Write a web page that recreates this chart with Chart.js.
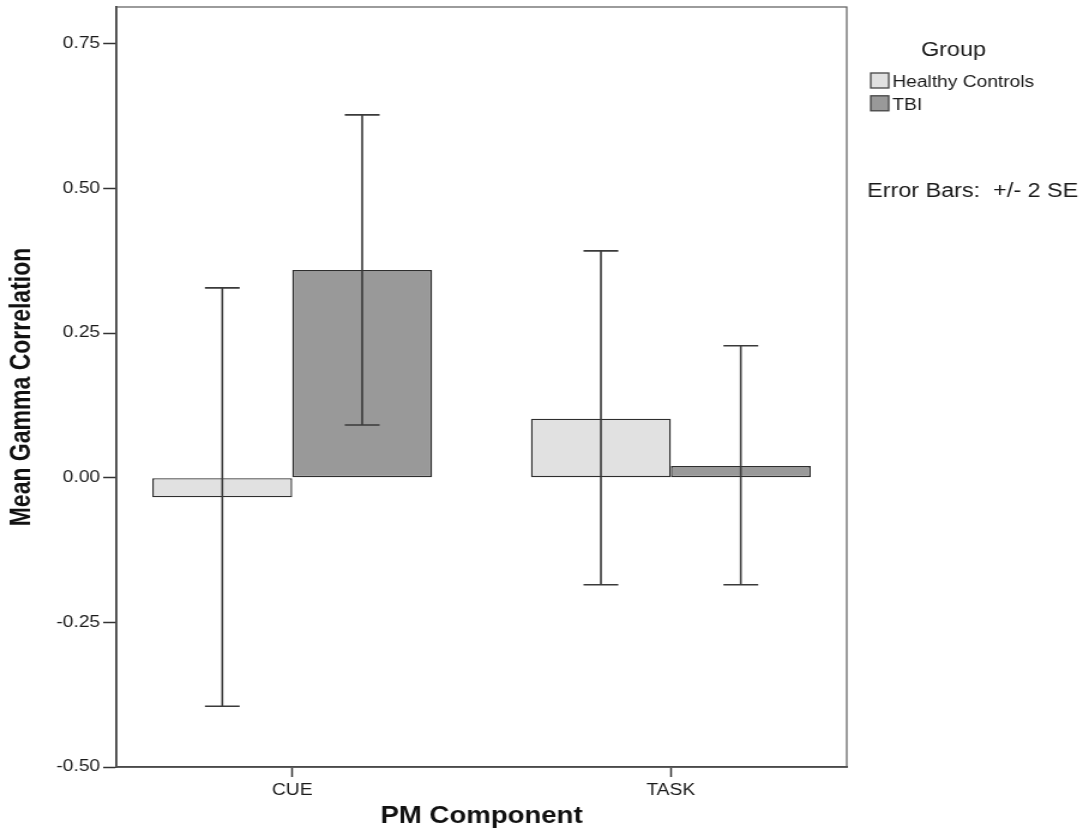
<!DOCTYPE html>
<html>
<head>
<meta charset="utf-8">
<script src="https://cdn.jsdelivr.net/npm/chart.js@4.4.1/dist/chart.umd.min.js"></script>
<style>
  html, body { margin: 0; padding: 0; background: #fff; }
</style>
</head>
<body>
<!-- drawn at 908 wide and shown at 1089 wide, same proportions as the SPSS export -->
<canvas id="gammaChart" width="908" height="836" style="display:block;width:1089px;height:836px"></canvas>
<script>
const categories = ['CUE', 'TASK'];
const groups = ['Healthy Controls', 'TBI'];
const controlMeans = [-0.034, 0.102];
const tbiMeans = [0.359, 0.020];
// error bar limits, +/- 2 SE
const controlLower = [-0.395, -0.185];
const controlUpper = [0.328, 0.392];
const tbiLower = [0.091, -0.185];
const tbiUpper = [0.627, 0.228];
const yTicks = [-0.5, -0.25, 0, 0.25, 0.5, 0.75];

const fillColors = ['#e1e1e1', '#999999'];
const edgeColor = '#2e2e2e';
const fontFamily = "'Liberation Sans', Arial, sans-serif";

Chart.defaults.font.family = fontFamily;
Chart.defaults.color = '#1a1a1a';

const errorBars = {
    id: 'errorBars',
    afterDatasetsDraw(chart) {
        const ctx = chart.ctx;
        const yScale = chart.scales.y;
        const capHalf = 14.5;
        ctx.save();
        ctx.strokeStyle = '#3a3a3a';
        ctx.lineWidth = 1.6;
        chart.data.datasets.forEach((ds, di) => {
            chart.getDatasetMeta(di).data.forEach((bar, i) => {
                const top = yScale.getPixelForValue(ds.upper[i]);
                const bottom = yScale.getPixelForValue(ds.lower[i]);
                ctx.beginPath();
                ctx.moveTo(bar.x, top);
                ctx.lineTo(bar.x, bottom);
                ctx.moveTo(bar.x - capHalf, top);
                ctx.lineTo(bar.x + capHalf, top);
                ctx.moveTo(bar.x - capHalf, bottom);
                ctx.lineTo(bar.x + capHalf, bottom);
                ctx.stroke();
            });
        });
        ctx.restore();
    }
};

// plot frame, legend and the error bar note on the right
const sidePanel = {
    id: 'sidePanel',
    afterDraw(chart) {
        const ctx = chart.ctx;
        const area = chart.chartArea;
        ctx.save();
        ctx.strokeStyle = '#5a5a5a';
        ctx.lineWidth = 1.2;
        ctx.strokeRect(area.left, area.top, area.right - area.left, area.bottom - area.top);

        ctx.fillStyle = '#1a1a1a';
        ctx.textBaseline = 'middle';
        ctx.textAlign = 'center';
        ctx.font = '19.5px ' + fontFamily;
        ctx.fillText('Group', 795, 51);

        ctx.textAlign = 'left';
        ctx.font = '16px ' + fontFamily;
        const rows = [80.5, 103.3];
        chart.data.datasets.forEach((ds, i) => {
            ctx.fillStyle = ds.backgroundColor;
            ctx.fillRect(726, rows[i] - 7.5, 15, 15);
            ctx.strokeStyle = '#444';
            ctx.lineWidth = 1.3;
            ctx.strokeRect(726, rows[i] - 7.5, 15, 15);
            ctx.fillStyle = '#1a1a1a';
            ctx.fillText(ds.label, 744, rows[i] + 2);
        });

        ctx.font = '19.5px ' + fontFamily;
        ctx.fillText('Error Bars:  +/- 2 SE', 723, 192);
        ctx.restore();
    }
};

const ctx = document.getElementById('gammaChart').getContext('2d');

new Chart(ctx, {
    type: 'bar',
    data: {
        datasets: [{
            label: groups[0],
            data: categories.map((c, i) => ({ x: i, y: controlMeans[i] })),
            lower: controlLower,
            upper: controlUpper,
            backgroundColor: fillColors[0]
        }, {
            label: groups[1],
            data: categories.map((c, i) => ({ x: i, y: tbiMeans[i] })),
            lower: tbiLower,
            upper: tbiUpper,
            backgroundColor: fillColors[1]
        }]
    },
    options: {
        responsive: false,
        animation: false,
        devicePixelRatio: 1,
        events: [],
        datasets: {
            bar: {
                borderColor: edgeColor,
                borderWidth: 1.4,
                borderSkipped: false,
                categoryPercentage: 0.739,
                barPercentage: 1
            }
        },
        layout: { padding: { top: 7, right: 202, left: 0, bottom: 0 } },
        plugins: {
            legend: { display: false },
            tooltip: { enabled: false }
        },
        scales: {
            x: {
                type: 'linear',
                min: -0.4646,
                max: 1.4646,
                offset: false,
                afterBuildTicks: (scale) => {
                    scale.ticks = categories.map((c, i) => ({ value: i }));
                },
                afterFit: (scale) => {
                    scale.height = 69;
                    scale.paddingLeft = 0;
                    scale.paddingRight = 0;
                },
                grid: {
                    offset: false,
                    drawOnChartArea: false,
                    tickLength: 10,
                    tickColor: '#333',
                    tickWidth: 1.5
                },
                border: { color: '#333', width: 1.8 },
                ticks: {
                    padding: 4,
                    maxRotation: 0,
                    font: { size: 16 },
                    callback: (v) => categories[v] ?? ''
                },
                title: {
                    display: true,
                    text: 'PM Component',
                    font: { size: 23, weight: 'bold' },
                    color: '#111',
                    padding: { top: 0, bottom: 6 }
                }
            },
            y: {
                min: -0.5,
                max: 0.8135,
                afterBuildTicks: (scale) => {
                    scale.ticks = yTicks.map(v => ({ value: v }));
                },
                afterFit: (scale) => {
                    scale.width = 97;
                    scale.paddingTop = 0;
                    scale.paddingBottom = 0;
                },
                grid: {
                    drawOnChartArea: false,
                    tickLength: 11,
                    tickColor: '#333',
                    tickWidth: 1.5
                },
                border: { color: '#333', width: 1.8 },
                ticks: {
                    padding: 2.5,
                    font: { size: 16 },
                    callback: (v) => v.toFixed(2)
                },
                title: {
                    display: true,
                    text: 'Mean Gamma Correlation',
                    font: { size: 23, weight: 'bold' },
                    color: '#111',
                    padding: { top: 4.5, bottom: 0 }
                }
            }
        }
    },
    plugins: [errorBars, sidePanel]
});
</script>
</body>
</html>
